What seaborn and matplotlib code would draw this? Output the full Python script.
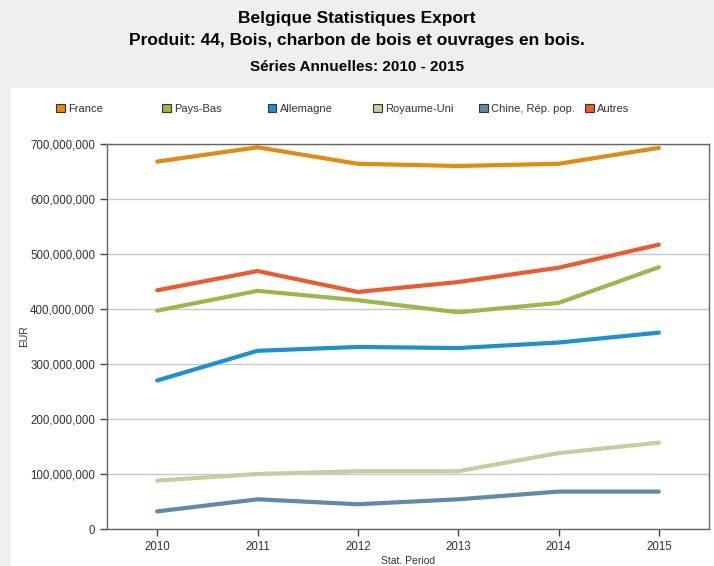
import matplotlib.pyplot as plt
import matplotlib.ticker as mticker
from matplotlib.patches import Patch, Rectangle
import pandas as pd
import seaborn as sns

years = [2010, 2011, 2012, 2013, 2014, 2015]
countries = ['France', 'Pays-Bas', 'Allemagne', 'Royaume-Uni', 'Chine, Rép. pop.', 'Autres']
france = [668e6, 694e6, 664e6, 660e6, 664e6, 693e6]
pays_bas = [397e6, 433e6, 416e6, 394e6, 411e6, 476e6]
allemagne = [270e6, 324e6, 331e6, 329e6, 339e6, 357e6]
royaume_uni = [88e6, 100e6, 105e6, 105e6, 138e6, 157e6]
chine = [32e6, 54e6, 45e6, 54e6, 68e6, 68e6]
autres = [434e6, 469e6, 431e6, 449e6, 475e6, 517e6]
colors = ['#E38B0E', '#9BB84A', '#1D8FD3', '#C9CCA0', '#5F8AA8', '#EE5A2C']

values = [france, pays_bas, allemagne, royaume_uni, chine, autres]
rows = []
for c, v in zip(countries, values):
    for y, val in zip(years, v):
        rows.append({'Year': y, 'Pays': c, 'EUR': val})
df = pd.DataFrame(rows)
palette = dict(zip(countries, colors))

sns.set_style('white')
plt.rcParams['font.family'] = ['Liberation Sans', 'DejaVu Sans']

fig = plt.figure(figsize=(7.14, 5.66), dpi=100)
fig.patch.set_facecolor('#efefef')
# white panel under the legend and plot
fig.add_artist(Rectangle((11 / 714, 0), 1, (566 - 88) / 566, transform=fig.transFigure,
                         facecolor='white', edgecolor='none', zorder=0))

ax = fig.add_axes([107 / 714, 37 / 566, 602 / 714, 385 / 566])
ax.set_facecolor('white')
sns.lineplot(data=df, x='Year', y='EUR', hue='Pays', palette=palette, linewidth=3,
             legend=False, ax=ax)

ax.set_xlim(2009.5, 2015.5)
ax.set_ylim(0, 700e6)
ax.set_xticks(years)
ax.set_yticks(range(0, 700000001, 100000000))
ax.yaxis.set_major_formatter(mticker.FuncFormatter(lambda v, p: f'{int(v):,}'))
ax.grid(axis='y', color='#c8c8c8', linewidth=1)
ax.set_axisbelow(True)
for s in ax.spines.values():
    s.set_color('#666666')
    s.set_linewidth(1)
ax.tick_params(axis='both', direction='out', length=5, width=1, color='#444444',
               labelsize=8.3, labelcolor='#333333', left=True, bottom=True)
ax.set_xlabel('Stat. Period', fontsize=7.5, color='#333333', labelpad=2)
ax.set_ylabel('EUR', fontsize=7.5, color='#333333', labelpad=1)

fig.text(0.5, 1 - 18 / 566, 'Belgique Statistiques Export', ha='center', va='center',
         fontsize=12.5, fontweight='bold', color='black')
fig.text(0.5, 1 - 41 / 566, 'Produit: 44, Bois, charbon de bois et ouvrages en bois.',
         ha='center', va='center', fontsize=12.5, fontweight='bold', color='black')
fig.text(0.5, 1 - 67 / 566, 'Séries Annuelles: 2010 - 2015', ha='center', va='center',
         fontsize=11, fontweight='bold', color='black')

# legend items sit in fixed-width slots like the original
for i, c in enumerate(countries):
    h = Patch(facecolor=palette[c], edgecolor='#333333', linewidth=0.8)
    fig.legend([h], [c], loc='center left',
               bbox_to_anchor=((46 + 105.8 * i) / 714, 1 - 109 / 566),
               frameon=False, fontsize=8, handlelength=0.8, handleheight=0.8,
               handletextpad=0.3, labelcolor='#333333')

fig.savefig('out.png', dpi=100, facecolor=fig.get_facecolor())
